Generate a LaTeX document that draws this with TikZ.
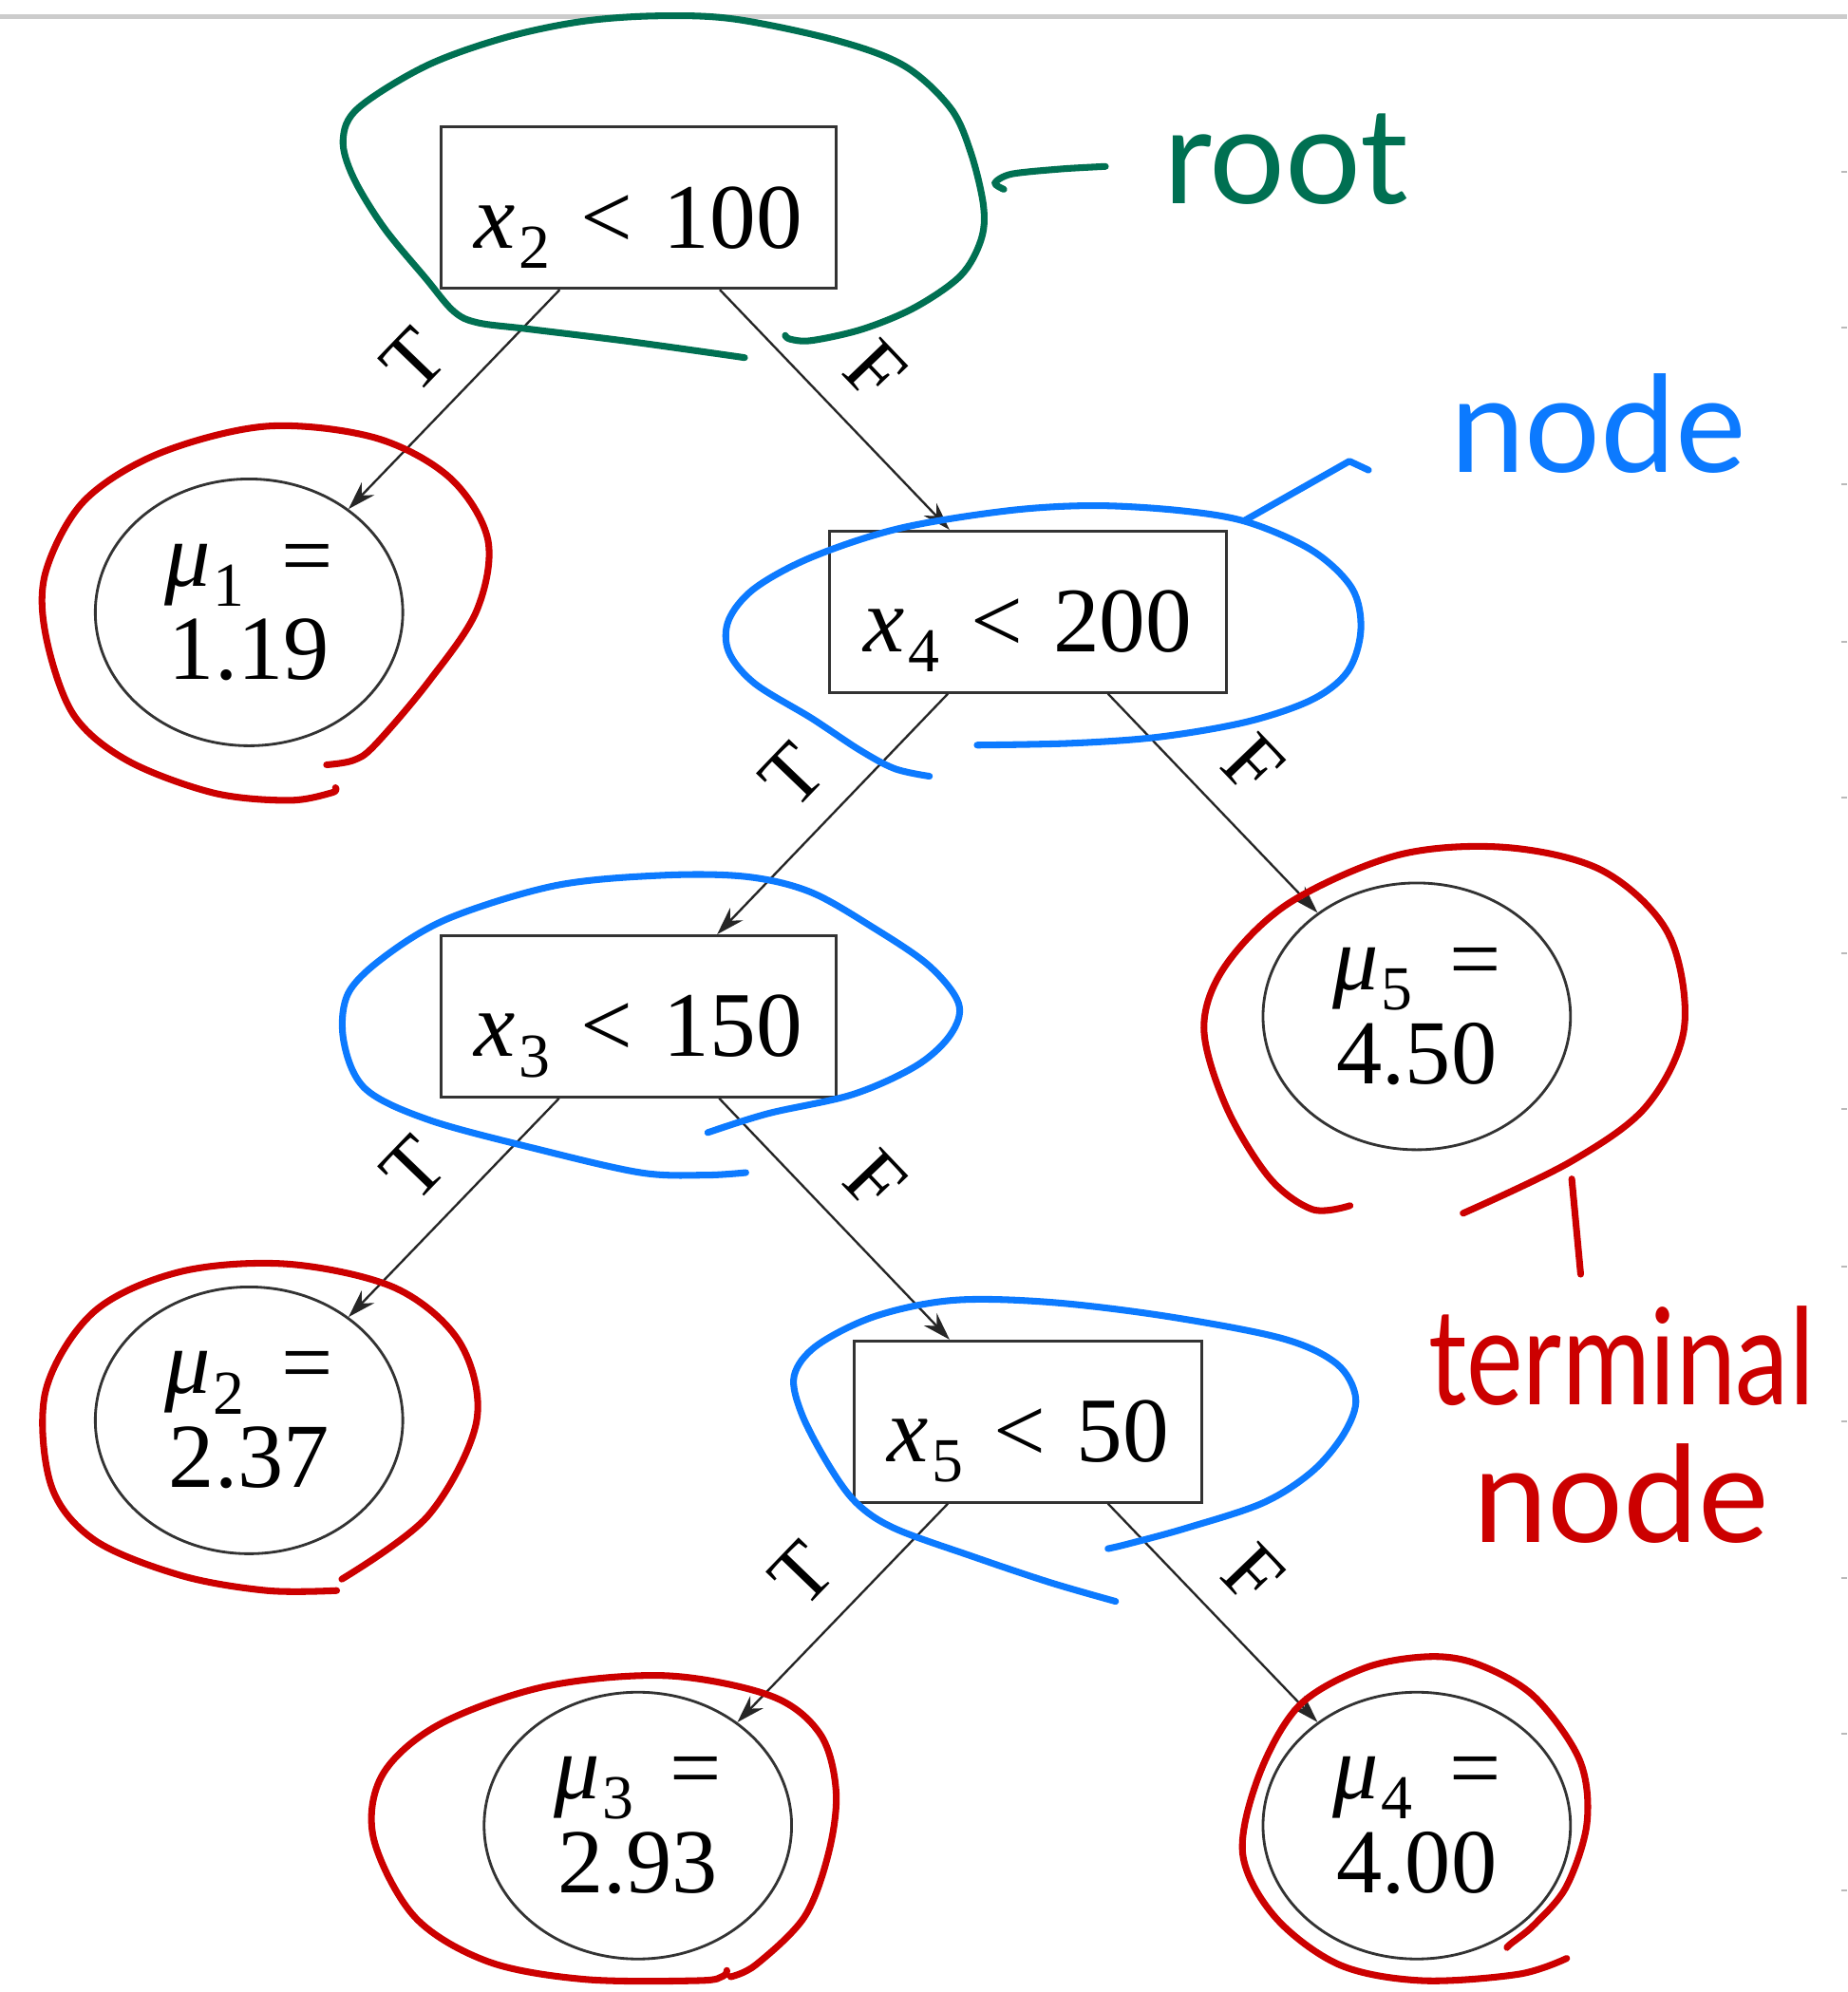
\documentclass[tikz,border=0pt]{standalone}
\usepackage{graphicx}
\usepackage{fontspec}
\setmainfont{Liberation Serif}
\newfontfamily\handfont{Lato}
\usetikzlibrary{shapes.geometric,arrows.meta,calc}
\definecolor{hgreen}{RGB}{0,112,82}
\definecolor{hblue}{RGB}{12,122,255}
\definecolor{hred}{RGB}{204,0,0}
\newcommand\sbs[1]{\raisebox{-4.5pt}[0pt][0pt]{\fontsize{14}{14}\selectfont #1}}
\newcommand\xv[1]{{\itshape x}\kern0.04em\sbs{#1}}
\newcommand\muv[1]{{\itshape μ}\kern0.03em\sbs{#1}}
\newcommand\lgap{\hspace{0.33em}}
\begin{document}
\begin{tikzpicture}[x=0.1mm, y=-0.1mm,
  splitbox/.style={draw=black!80, line width=0.6pt, rectangle, minimum height=12.7mm,
    inner sep=0pt, text height=18.5pt, text depth=0.4pt, font=\fontsize{20.7}{21}\selectfont},
  leaf/.style={draw=black!80, line width=0.6pt, ellipse, minimum width=24.2mm,
    minimum height=21mm, inner sep=0pt, align=center, font=\fontsize{20.5}{21}\selectfont},
  edge/.style={draw=black!85, line width=0.5pt, -{Stealth[length=2.2mm,width=1.4mm]}},
  tf/.style={font=\fontsize{18.5}{18.5}\selectfont, sloped, anchor=south, inner sep=2.2mm, pos=0.5},
  annot/.style={line width=1.5pt, line cap=round, line join=round},
  handtxt/.style={inner sep=0pt, font=\handfont\fontsize{30}{31}\selectfont}]
\useasboundingbox (0,0) rectangle (1454,1568);
\fill[white] (0,0) rectangle (1454,1568);

% screenshot frame artefacts
\draw[gray!40, line width=0.35mm] (0,13) -- (1454,13);
\foreach \yy in {135,258,381,505,628,750,873,997,1119,1242,1365,1488}
  \draw[gray!55, line width=0.15mm] (1449,\yy) -- (1454,\yy);

% tree nodes
\node[splitbox, minimum width=31.1mm] (root) at (502.5,163.5) {\xv{2}\lgap<\lgap100};
\node[splitbox, minimum width=31.2mm] (n4) at (809,481.5) {\xv{4}\lgap<\lgap200};
\node[splitbox, minimum width=31.1mm] (n3) at (502.5,800) {\xv{3}\lgap<\lgap150};
\node[splitbox, minimum width=27.4mm] (n5) at (809,1119) {\xv{5}\lgap<\lgap50};

\node[leaf] (mu1) at (196,482) {\muv{1}\hspace{0.4em}=\\1.19};
\node[leaf] (mu5) at (1115,800) {\muv{5}\hspace{0.4em}=\\4.50};
\node[leaf] (mu2) at (196,1118) {\muv{2}\hspace{0.4em}=\\2.37};
\node[leaf] (mu3) at (502,1437) {\muv{3}\hspace{0.4em}=\\2.93};
\node[leaf] (mu4) at (1115,1437) {\muv{4}\hspace{0.4em}=\\4.00};

% connectors
\draw[edge] ($(root.south)+(-6.2mm,0)$) -- node[tf]{T} (mu1);
\draw[edge] ($(root.south)+(6.4mm,0)$) -- node[tf]{F} (n4);
\draw[edge] ($(n4.south)+(-6.3mm,0)$) -- node[tf]{T} (n3);
\draw[edge] ($(n4.south)+(6.3mm,0)$) -- node[tf]{F} (mu5);
\draw[edge] ($(n3.south)+(-6.25mm,0)$) -- node[tf]{T} (mu2);
\draw[edge] ($(n3.south)+(6.35mm,0)$) -- node[tf]{F} (n5);
\draw[edge] ($(n5.south)+(-6.3mm,0)$) -- node[tf]{T} (mu3);
\draw[edge] ($(n5.south)+(6.3mm,0)$) -- node[tf]{F} (mu4);

% handwritten annotations: root (green)
\draw[annot, hgreen] plot[smooth, tension=0.55] coordinates {
 (586,281.5) (497,269) (416,259) (376,254) (357,245) (335,219) (302,179) (278,139.5)
 (270,110) (282,85) (335,52) (396,30) (457,17) (517,12.5) (578,15) (659,32) (712,52)
 (748,85) (764,120) (774,162) (772,189) (756,217) (720,242) (679,259) (639,268) (622,267) (618,264)};
\draw[annot, hgreen] plot[smooth, tension=0.5] coordinates {(790,149) (783,144) (796,137) (835,133) (870,131)};
\node[handtxt, text=hgreen, anchor=base] (roottxt) at (1012,160) {root};

% nodes (blue)
\draw[annot, hblue] plot[smooth, tension=0.55] coordinates {
 (731.5,611) (704,605) (676,590) (639,565.5) (594,538) (573.5,513) (573.5,488) (594,463)
 (639,438.5) (707.5,416) (793,402) (861.5,398) (930,402) (982,411) (1033,433.5) (1064,463)
 (1071,495.5) (1061,528) (1033,550.5) (982,568) (913,580) (844,585) (769,586.5)};
\draw[annot, hblue] (979,410) -- (1062,363) -- (1077,370);
\node[handtxt, text=hblue, anchor=base] (nodetxt) at (1258,372) {node};

\draw[annot, hblue] plot[smooth, tension=0.55] coordinates {
 (587,923) (554.5,925) (504,923) (421,904) (337.5,881.5) (287.5,857) (270.5,819.5) (274,782)
 (304,752) (354,722.5) (437.5,697) (521,689) (587,690) (637.5,702) (687,730) (731,760)
 (754.5,790) (748,814.5) (721,839) (671,861.5) (604.5,876.5) (557,891.5)};

\draw[annot, hblue] plot[smooth, tension=0.55] coordinates {
 (878,1260.5) (826,1245.5) (765,1225) (704,1203) (674,1183) (652,1153) (631,1113) (625,1083)
 (643,1059) (689,1036) (750,1023.5) (826,1025) (917.5,1036) (1009,1053.5) (1052,1073.5)
 (1067,1100.5) (1058,1128) (1033,1158) (994,1183) (933,1203) (887,1215.5) (872,1219)};

% terminal nodes (red)
\draw[annot, hred] plot[smooth, tension=0.55] coordinates {
 (264,620) (261,624) (227,630) (167.5,624) (100,598.5) (57.5,562) (36,500) (36,450) (66,394.5)
 (125,357) (210,335.5) (295,344.5) (354,376) (384,425) (375,481) (337,537) (295,586.5)
 (278,598.5) (257,602)};
\draw[annot, hred] plot[smooth, tension=0.55] coordinates {
 (269,1243) (337,1193) (375,1119) (362,1057) (311.5,1014) (227,995) (142,1001) (74,1032.5)
 (36,1094.5) (40,1168.5) (74,1212) (142,1240) (210,1252) (265,1252)};
\draw[annot, hred] plot[smooth, tension=0.55] coordinates {
 (1062.5,949) (1033,952) (999,927) (965,871) (947.5,809) (964.5,760) (1015,710.5)
 (1100.5,673) (1185,667) (1261.5,685.5) (1313,735) (1325.5,809) (1295.5,871) (1236,914.5)
 (1151.5,955)};
\draw[annot, hred] plot[smooth, tension=0.55] coordinates {
 (572,1551) (569,1555.5) (550,1559) (460,1558) (384,1544) (326.5,1509) (294,1447) (301,1397)
 (345.5,1357.5) (429,1327.5) (524.5,1319) (607,1335) (645.5,1365) (658,1410) (652,1459)
 (633,1509) (595,1546.5) (575,1556)};
\draw[annot, hred] plot[smooth, tension=0.55] coordinates {
 (1186,1533) (1189,1530) (1208,1514.5) (1233,1484.5) (1249,1434.5) (1243,1385) (1207,1335)
 (1163,1310) (1124.5,1304) (1074,1313) (1022.5,1342.5) (991,1397) (978,1459) (1003.5,1509)
 (1054,1546.5) (1118.5,1559) (1195,1554) (1233,1541.5)};
\draw[annot, hred] (1237,928) -- (1244,1003);
\node[handtxt, text=hred, align=center] (termtxt) at (1276,1121.5)
  {\scalebox{0.8}[1]{terminal}\\node};
\end{tikzpicture}
\end{document}
